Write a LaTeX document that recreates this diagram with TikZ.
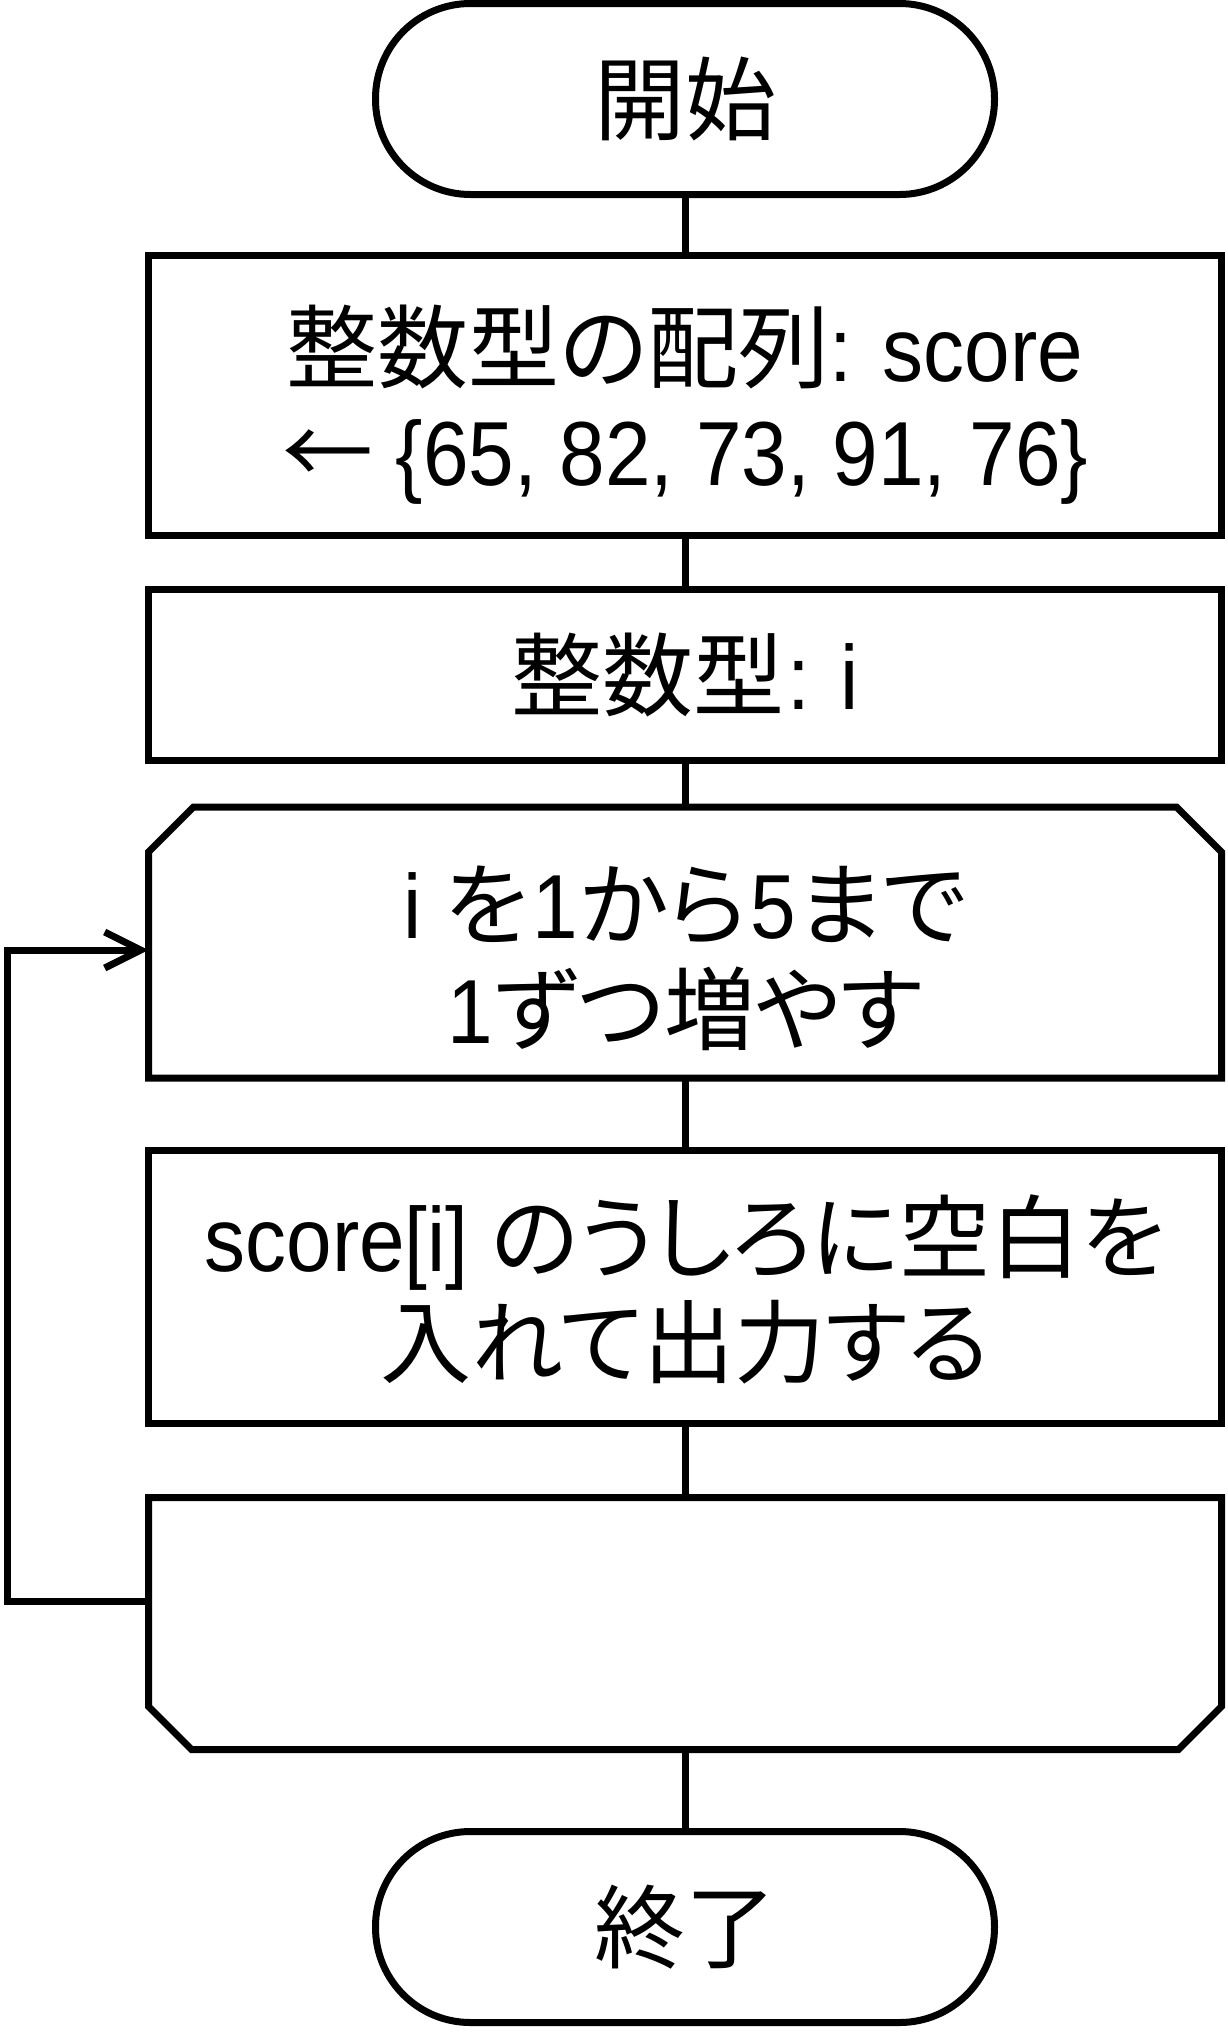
\documentclass[tikz,border=0pt]{standalone}
\usepackage{fontspec}
\setmainfont{Noto Sans CJK JP}[RawFeature=+palt]
\newfontfamily\latf[FakeStretch=0.9]{Liberation Sans}
\newcommand{\latx}[1]{{\latf #1}}
\newcommand{\bigfont}{\fontsize{91pt}{105pt}\selectfont}
\usetikzlibrary{arrows.meta}
\begin{document}
\begin{tikzpicture}[x=1pt,y=-1pt,
  outl/.style={draw=black, line width=7pt},
  termbox/.style={outl, rectangle, rounded corners=95pt, minimum width=619pt, minimum height=191pt, inner sep=0pt, font=\bigfont},
  procbox/.style={outl, rectangle, minimum width=1073pt, inner sep=0pt},
  loopframe/.style={rectangle, inner sep=0pt, outer sep=0pt, minimum width=1073pt},
  conn/.style={draw=black, line width=7pt},
  txt/.style={inner sep=0pt, anchor=base, font=\bigfont}
]
\useasboundingbox (0,0) rectangle (1228,2032);

% terminal: start
\node[termbox] (start) at (685,99) {開始};

% process box 1
\node[procbox, minimum height=279.5pt] (b1) at (685,395.25) {};
\node[txt] (b1a) at (685,381) {整数型の配列\latx{: score}};
\node[txt] (b1b) at (685,485) {←\latx{\ \{65, 82, 73, 91, 76\}}};

% process box 2
\node[procbox, minimum height=171.5pt] (b2) at (685,674.75) {};
\node[txt] (b2a) at (685,709) {整数型\kern3pt\latx{: i}};

% loop start (top corners chamfered)
\node[loopframe, minimum height=271pt] (ls) at (685,942.5) {};
\draw[outl] ([yshift=-45pt]ls.north west) -- ([xshift=45pt]ls.north west)
  -- ([xshift=-45pt]ls.north east) -- ([yshift=-45pt]ls.north east)
  -- (ls.south east) -- (ls.south west) -- cycle;
\node[txt] (lsa) at (685,938) {\latx{i }を\kern4pt\latx{1}\kern2pt から\kern4pt\latx{5}\kern2pt まで};
\node[txt] (lsb) at (685,1043) {\latx{1}\kern2pt ずつ増やす};

% process box 3
\node[procbox, minimum height=273pt] (b3) at (685,1287) {};
\node[txt] (b3a) at (685,1271) {\latx{score[i] }のうしろに空白を};
\node[txt] (b3b) at (685,1376) {入れて出力する};

% loop end (bottom corners chamfered)
\node[loopframe, minimum height=252pt] (le) at (685,1623.5) {};
\draw[outl] (le.north west) -- (le.north east)
  -- ([yshift=43pt]le.south east) -- ([xshift=-43pt]le.south east)
  -- ([xshift=43pt]le.south west) -- ([yshift=43pt]le.south west) -- cycle;

% terminal: end
\node[termbox] (end) at (685,1927) {終了};

% connectors
\draw[conn] (start.south) -- (b1.north);
\draw[conn] (b1.south) -- (b2.north);
\draw[conn] (b2.south) -- (ls.north);
\draw[conn] (ls.south) -- (b3.north);
\draw[conn] (b3.south) -- (le.north);
\draw[conn] (le.south) -- (end.north);

% loop back
\coordinate (lp1) at (7.5,1601.5);
\coordinate (lp2) at (7.5,950);
\draw[conn, -{Straight Barb[length=36pt,width=36pt]}]
  (lp1 -| le.west) -- (lp1) -- (lp2) -- (lp2 -| ls.west);
\end{tikzpicture}
\end{document}
